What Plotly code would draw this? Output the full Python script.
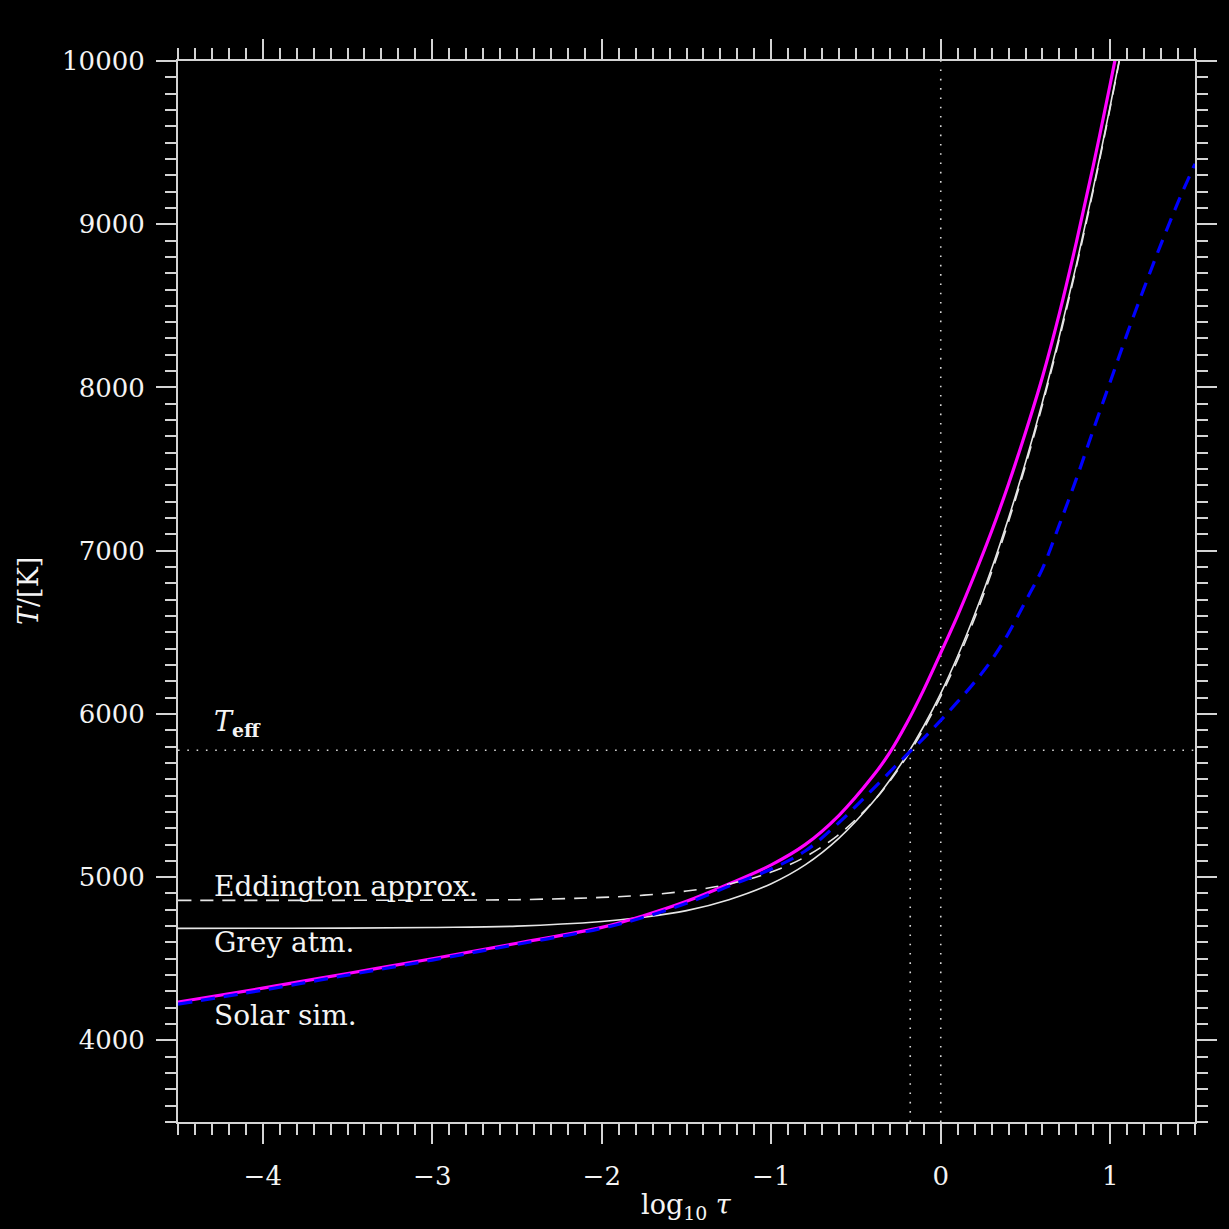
import plotly.graph_objects as go

# ---- data ----
solar_x = [-4.5, -4.0, -3.5, -3.0, -2.5, -2.0, -1.75, -1.5, -1.25, -1.0, -0.8, -0.6, -0.4, -0.3, -0.2,
           -0.1, 0.0, 0.1, 0.2, 0.3, 0.4, 0.5, 0.6, 0.7, 0.8, 0.9, 1.0, 1.05]
solar_T = [4235, 4320, 4410, 4500, 4595, 4692, 4765, 4852, 4958, 5075, 5199, 5379, 5619, 5764, 5944,
           6149, 6374, 6604, 6854, 7119, 7409, 7724, 8064, 8454, 8889, 9359, 9859, 10120]

fit_x = [-4.5, -4.0, -3.5, -3.0, -2.5, -2.0, -1.75, -1.5, -1.25, -1.0, -0.8, -0.6, -0.4, -0.2,
         -0.1, 0.0, 0.1, 0.2, 0.3, 0.4, 0.5, 0.6, 0.7, 0.8, 0.9, 1.0, 1.1, 1.2, 1.3, 1.4, 1.5]
fit_T = [4222, 4308, 4400, 4492, 4588, 4686, 4755, 4840, 4945, 5050, 5160, 5335, 5540, 5750,
         5852, 5960, 6075, 6195, 6330, 6495, 6690, 6890, 7160, 7440, 7740, 8035, 8330, 8610, 8880, 9135, 9370]

grey_x = [-4.5, -4.0, -3.5, -3.0, -2.5, -2.0, -1.75, -1.5, -1.25, -1.0, -0.8, -0.6, -0.4, -0.3, -0.2,
          -0.1, 0.0, 0.1, 0.2, 0.3, 0.4, 0.5, 0.6, 0.7, 0.8, 0.9, 1.0, 1.06]
grey_T = [4686, 4687, 4688, 4692, 4700, 4728, 4755, 4795, 4862, 4960, 5075, 5239, 5460, 5595, 5749,
          5926, 6126, 6355, 6609, 6889, 7200, 7540, 7911, 8315, 8751, 9221, 9725, 10040]

edd_x = [-4.5, -4.0, -3.5, -3.0, -2.5, -2.0, -1.75, -1.5, -1.25, -1.0, -0.8, -0.6, -0.4, -0.3, -0.2,
         -0.1, 0.0, 0.1, 0.2, 0.3, 0.4, 0.5, 0.6, 0.7, 0.8, 0.9, 1.0, 1.06]
edd_T = [4858, 4858, 4858, 4859, 4862, 4876, 4890, 4915, 4957, 5031, 5124, 5262, 5461, 5589, 5738,
         5910, 6108, 6333, 6586, 6868, 7179, 7521, 7894, 8299, 8738, 9209, 9716, 10036]

T_eff = 5777
log_tau_teff = -0.18
log_tau_one = 0.0
x_range = [-4.5, 1.5]
y_range = [3500, 10000]

x_ticks = [-4, -3, -2, -1, 0, 1]
y_ticks = [4000, 5000, 6000, 7000, 8000, 9000, 10000]
y_ticktext = ["4000", "5000", "6000", "7000", "8000", "9000", "10000"]

labels = ["Eddington approx.", "Grey atm.", "Solar sim."]
label_T = [4945, 4600, 4152]

# ---- styling ----
FONT = "DejaVu Serif"
AX = "#d4d4d4"
TXT = "#f4f4f4"
DOT = "#d8d8d8"

fig = go.Figure()

# reference dotted lines
fig.add_trace(go.Scatter(x=x_range, y=[T_eff, T_eff], mode="lines",
                         line=dict(color=DOT, width=1.6, dash="1.6px,7.7px"), hoverinfo="skip"))
fig.add_trace(go.Scatter(x=[log_tau_one, log_tau_one], y=y_range, mode="lines",
                         line=dict(color=DOT, width=1.6, dash="1.6px,7.7px"), hoverinfo="skip"))
fig.add_trace(go.Scatter(x=[log_tau_teff, log_tau_teff], y=[y_range[0], T_eff], mode="lines",
                         line=dict(color=DOT, width=1.6, dash="1.6px,7.7px"), hoverinfo="skip"))

# grey atmosphere
fig.add_trace(go.Scatter(x=grey_x, y=grey_T, mode="lines", line_shape="spline",
                         line=dict(color="#e6e6e6", width=1.6)))
# solar simulation
fig.add_trace(go.Scatter(x=solar_x, y=solar_T, mode="lines", line_shape="spline",
                         line=dict(color="#ff00ff", width=3.2)))
# Eddington approximation
fig.add_trace(go.Scatter(x=edd_x, y=edd_T, mode="lines", line_shape="spline",
                         line=dict(color="#e6e6e6", width=1.6, dash="13px,9px")))
# blue dashed
fig.add_trace(go.Scatter(x=fit_x, y=fit_T, mode="lines", line_shape="spline",
                         line=dict(color="#0000ff", width=3.2, dash="14px,9px")))

ann = []
ann.append(dict(x=-4.3, y=T_eff, xref="x", yref="y", xanchor="left", yanchor="bottom", yshift=7,
                text="<i>T</i><sub><b>eff</b></sub>", showarrow=False,
                font=dict(family=FONT, size=27, color=TXT)))
for lab, ty in zip(labels, label_T):
    ann.append(dict(x=-4.3, y=ty, xref="x", yref="y", xanchor="left", yanchor="middle",
                    text=lab, showarrow=False, font=dict(family=FONT, size=28, color=TXT)))
ann.append(dict(x=-0.147, y=0.5, xref="paper", yref="paper", xanchor="center", yanchor="middle",
                text="<i>T</i>/[K]", textangle=-90, showarrow=False,
                font=dict(family=FONT, size=27, color=TXT)))
ann.append(dict(x=0.5, y=-0.08, xref="paper", yref="paper", xanchor="center", yanchor="middle",
                text="log<sub>10</sub> <i>τ</i>", showarrow=False,
                font=dict(family=FONT, size=27, color=TXT)))

axis_common = dict(showgrid=False, zeroline=False, showline=True, linecolor=AX, linewidth=2,
                   mirror="ticks", ticks="outside", ticklen=20, tickwidth=2, tickcolor=AX,
                   tickfont=dict(family=FONT, size=26, color=TXT))

fig.update_layout(
    width=1229, height=1229, autosize=False,
    margin=dict(l=178, r=31, t=61, b=107, pad=0),
    paper_bgcolor="black", plot_bgcolor="black",
    showlegend=False,
    annotations=ann,
    xaxis=dict(range=x_range, tickvals=x_ticks, ticklabelstandoff=10,
               minor=dict(dtick=0.1, ticks="outside", ticklen=11, tickwidth=2, tickcolor=AX, showgrid=False),
               **axis_common),
    yaxis=dict(range=y_range, tickvals=y_ticks, ticktext=y_ticktext, ticklabelstandoff=6,
               minor=dict(dtick=100, ticks="outside", ticklen=11, tickwidth=2, tickcolor=AX, showgrid=False),
               **axis_common),
)

fig.write_html("out.html")
